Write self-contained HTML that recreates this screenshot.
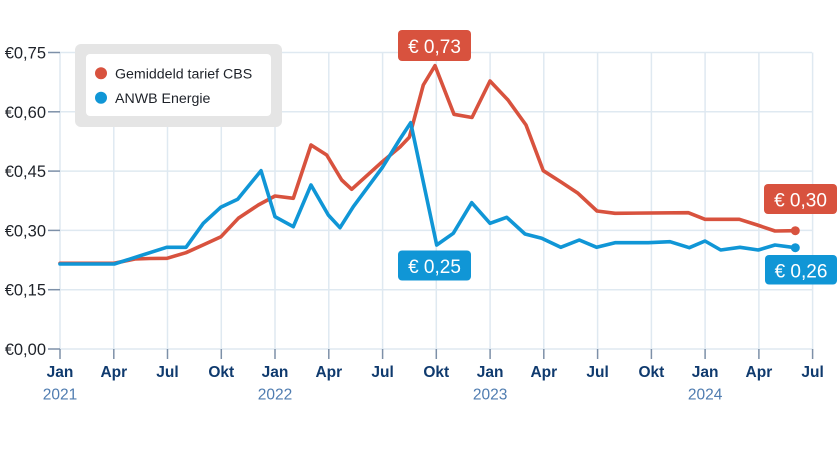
<!DOCTYPE html>
<html><head><meta charset="utf-8"><style>
html,body{margin:0;padding:0;background:#fff;}
svg{display:block;}
text{font-family:"Liberation Sans",sans-serif;}
</style></head><body>
<svg width="838" height="473" viewBox="0 0 838 473" xmlns="http://www.w3.org/2000/svg">
<rect width="838" height="473" fill="#fff"/>
<g stroke="#dfe9f1" stroke-width="1.5">
<line x1="60" y1="52.5" x2="812" y2="52.5"/>
<line x1="60" y1="111.8" x2="812" y2="111.8"/>
<line x1="60" y1="171.1" x2="812" y2="171.1"/>
<line x1="60" y1="230.4" x2="812" y2="230.4"/>
<line x1="60" y1="289.7" x2="812" y2="289.7"/>
<line x1="60" y1="349" x2="812" y2="349"/>
<line x1="60" y1="52.5" x2="60" y2="349"/>
<line x1="113.8" y1="52.5" x2="113.8" y2="349"/>
<line x1="167.5" y1="52.5" x2="167.5" y2="349"/>
<line x1="221.3" y1="52.5" x2="221.3" y2="349"/>
<line x1="275" y1="52.5" x2="275" y2="349"/>
<line x1="328.8" y1="52.5" x2="328.8" y2="349"/>
<line x1="382.6" y1="52.5" x2="382.6" y2="349"/>
<line x1="436.3" y1="52.5" x2="436.3" y2="349"/>
<line x1="490.1" y1="52.5" x2="490.1" y2="349"/>
<line x1="543.8" y1="52.5" x2="543.8" y2="349"/>
<line x1="597.6" y1="52.5" x2="597.6" y2="349"/>
<line x1="651.4" y1="52.5" x2="651.4" y2="349"/>
<line x1="705.1" y1="52.5" x2="705.1" y2="349"/>
<line x1="758.9" y1="52.5" x2="758.9" y2="349"/>
<line x1="812.6" y1="52.5" x2="812.6" y2="349"/>
</g>
<g stroke="#7d90a8" stroke-width="1.5">
<line x1="48" y1="52.5" x2="60" y2="52.5"/>
<line x1="48" y1="111.8" x2="60" y2="111.8"/>
<line x1="48" y1="171.1" x2="60" y2="171.1"/>
<line x1="48" y1="230.4" x2="60" y2="230.4"/>
<line x1="48" y1="289.7" x2="60" y2="289.7"/>
<line x1="48" y1="349" x2="60" y2="349"/>
<line x1="60" y1="349" x2="60" y2="359"/>
<line x1="113.8" y1="349" x2="113.8" y2="359"/>
<line x1="167.5" y1="349" x2="167.5" y2="359"/>
<line x1="221.3" y1="349" x2="221.3" y2="359"/>
<line x1="275" y1="349" x2="275" y2="359"/>
<line x1="328.8" y1="349" x2="328.8" y2="359"/>
<line x1="382.6" y1="349" x2="382.6" y2="359"/>
<line x1="436.3" y1="349" x2="436.3" y2="359"/>
<line x1="490.1" y1="349" x2="490.1" y2="359"/>
<line x1="543.8" y1="349" x2="543.8" y2="359"/>
<line x1="597.6" y1="349" x2="597.6" y2="359"/>
<line x1="651.4" y1="349" x2="651.4" y2="359"/>
<line x1="705.1" y1="349" x2="705.1" y2="359"/>
<line x1="758.9" y1="349" x2="758.9" y2="359"/>
<line x1="812.6" y1="349" x2="812.6" y2="359"/>
</g>
<g font-size="16.5" fill="#1e2229" text-anchor="end">
<text x="46" y="58.5">€0,75</text>
<text x="46" y="117.8">€0,60</text>
<text x="46" y="177.1">€0,45</text>
<text x="46" y="236.4">€0,30</text>
<text x="46" y="295.7">€0,15</text>
<text x="46" y="355">€0,00</text>
</g>
<g font-size="15.5" font-weight="bold" fill="#0f3a6e" text-anchor="middle">
<text x="60" y="377">Jan</text>
<text x="113.8" y="377">Apr</text>
<text x="167.5" y="377">Jul</text>
<text x="221.3" y="377">Okt</text>
<text x="275" y="377">Jan</text>
<text x="328.8" y="377">Apr</text>
<text x="382.6" y="377">Jul</text>
<text x="436.3" y="377">Okt</text>
<text x="490.1" y="377">Jan</text>
<text x="543.8" y="377">Apr</text>
<text x="597.6" y="377">Jul</text>
<text x="651.4" y="377">Okt</text>
<text x="705.1" y="377">Jan</text>
<text x="758.9" y="377">Apr</text>
<text x="812.6" y="377">Jul</text>
</g>
<g font-size="15.5" fill="#4f7cb0" text-anchor="middle">
<text x="60" y="399.5">2021</text>
<text x="275" y="399.5">2022</text>
<text x="490.1" y="399.5">2023</text>
<text x="705.1" y="399.5">2024</text>
</g>
<rect x="75" y="44" width="207" height="83" rx="6" fill="#e5e5e5"/>
<rect x="86" y="54" width="185" height="62" rx="4" fill="#fff"/>
<circle cx="101" cy="73.3" r="6" fill="#d8523e"/>
<circle cx="101" cy="97.7" r="6" fill="#1096d6"/>
<g font-size="14.2" fill="#1e2229">
<text x="115" y="78.5">Gemiddeld tarief CBS</text>
<text x="115" y="102.8">ANWB Energie</text>
</g>
<polyline fill="none" stroke="#d8523e" stroke-width="3.6" stroke-linejoin="round" stroke-linecap="round" points="60,263.3 113.8,263.3 135,259 149.6,258.5 167,258.3 186,252.7 203,245 221,236.7 238.3,218.3 258.3,205 275,196 293.3,198.3 311,145 326.7,155 341.7,180 351.7,189.3 382,162 400,147 409.3,137.3 423.3,85 435,65.7 454,114.3 472,117.5 490,81 508,100 526,125 543.3,170.7 561,182 578,193.3 597,211 615,213.3 688.3,212.7 705,219.3 739.3,219.3 757.3,225 775,231 795.3,230.7"/>
<polyline fill="none" stroke="#1096d6" stroke-width="3.6" stroke-linejoin="round" stroke-linecap="round" points="60,264 114.3,264 166.7,247.3 186,247.3 203.3,223.3 220.7,207.3 237.7,199.3 261,170.7 275,216.7 293.3,226.7 311,185 328.3,215 340,227.7 353.3,206.7 382,168 400,139 410.7,122.7 436.7,245 453.3,233.3 471.7,202.7 490,223.3 506.7,217.3 525,234 541.7,238.3 560.7,247.3 579.3,240 596.7,247.3 615,242.7 648.3,242.7 670,241.7 689.3,247.7 705,241 720.7,250 740,247.3 758.3,250 775,245 795.3,247.7"/>
<circle cx="795.3" cy="230.7" r="4.5" fill="#d8523e"/>
<circle cx="795.3" cy="247.7" r="4.5" fill="#1096d6"/>
<g font-size="19" fill="#fff" text-anchor="middle">
<rect x="398" y="30" width="73" height="31" rx="4" fill="#d8523e"/>
<text x="434.5" y="53">€ 0,73</text>
<rect x="398" y="250.5" width="73" height="30" rx="4" fill="#1096d6"/>
<text x="434.5" y="273">€ 0,25</text>
<rect x="764" y="184" width="73" height="30" rx="4" fill="#d8523e"/>
<text x="800.5" y="206.5">€ 0,30</text>
<rect x="765" y="255" width="72" height="29.5" rx="4" fill="#1096d6"/>
<text x="801" y="277.5">€ 0,26</text>
</g>
</svg>
</body></html>
